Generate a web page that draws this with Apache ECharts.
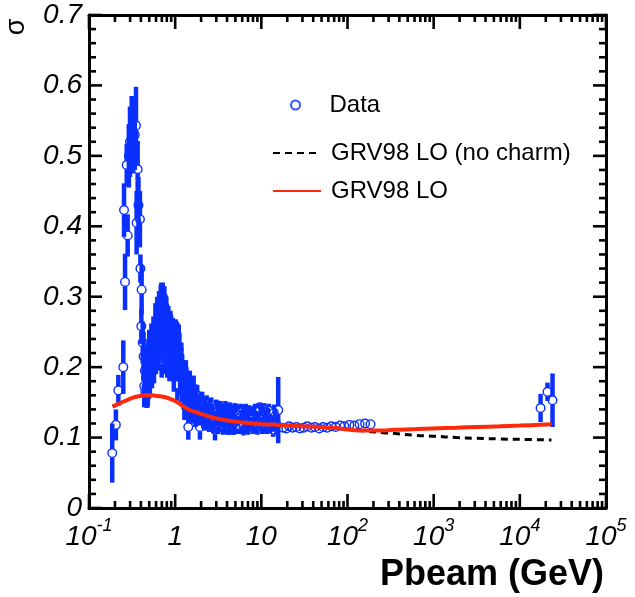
<!DOCTYPE html>
<html><head><meta charset="utf-8">
<script src="https://cdn.jsdelivr.net/npm/echarts@6/dist/echarts.min.js"></script>
<style>html,body{margin:0;padding:0;background:#fff}#c{width:635px;height:597px}</style>
</head><body><div id="c"></div>
<script>
// ---- Data ----
const pbeam = [
  0.186,0.205,0.219,0.250,0.255,0.262,0.274,0.281,0.290,0.299,0.313,0.326,0.340,0.351,0.357,0.367,0.375,0.390,0.395,0.405,0.408,0.420,0.430,0.438,0.445,0.450,
  0.458,0.466,0.475,0.490,0.500,0.515,0.530,0.545,0.560,0.575,0.590,0.605,0.620,0.635,0.650,0.665,0.680,0.697,0.710,0.725,0.740,0.760,0.780,0.800,0.820,0.845,0.870,0.895,0.920,0.950,0.980,1.010,1.040,1.060,1.080,1.120,1.160,1.200,
  1.25,1.30,1.35,1.42,1.45,1.52,1.60,1.68,1.76,1.85,1.94,2.00,2.12,2.25,2.40,2.55,2.70,2.90,3.05,3.25,3.45,3.70,3.95,4.20,4.50,4.80,5.10,5.65,6.00,6.40,6.80,7.25,7.70,8.20,8.70,9.30,9.90,10.5,11.2,11.9,12.6,13.7,14.5,15.7,
  17.9,19.5,21.0,23.0,25.5,28.0,31.0,34.0,38.0,42.0,47.0,52.0,58.0,65.0,73.0,82.0,92.0,105,120,138,160,185,
  17400,20950,23950,
  0.462,0.470,0.482,0.495,0.508,0.522,0.538,0.552,0.568,0.582,0.598,0.612,0.628,0.643,0.658,0.673,0.690,0.703,0.718,0.733,0.750,0.770,0.790,0.810,0.833,0.858,0.882,0.908,0.935,0.965,0.995,1.025,1.100,1.140,1.180,
  1.22,1.28,1.33,1.38,1.48,1.56,1.64,1.72,1.80,1.90,2.06,2.18,2.32,2.48,2.62,2.80,2.98,3.15,3.35,3.58,3.82,4.05,4.35,4.65,4.95,5.35,5.80,6.20,6.60,7.00,7.45,7.95,8.45,9.00,9.60,10.2,10.8,11.5,12.2,13.1,14.0,15.0
];
const sigma = [
  0.078,0.118,0.167,0.200,0.423,0.321,0.487,0.387,0.500,0.520,0.540,0.525,0.530,0.543,0.405,0.481,0.430,0.410,0.340,0.258,0.310,0.235,0.215,0.173,0.195,0.165,
  0.185,0.172,0.160,0.195,0.223,0.205,0.232,0.215,0.242,0.228,0.256,0.242,0.266,0.252,0.276,0.262,0.282,0.210,0.286,0.270,0.256,0.266,0.246,0.256,0.240,0.250,0.236,0.244,0.226,0.234,0.222,0.232,0.225,0.175,0.228,0.215,0.195,0.185,
  0.170,0.160,0.175,0.115,0.160,0.150,0.160,0.145,0.150,0.140,0.115,0.145,0.135,0.140,0.130,0.138,0.128,0.111,0.135,0.128,0.133,0.125,0.132,0.124,0.130,0.122,0.132,0.135,0.122,0.130,0.124,0.134,0.125,0.131,0.122,0.137,0.126,0.130,0.123,0.128,0.118,0.111,0.125,0.139,
  0.114,0.113,0.116,0.114,0.115,0.113,0.114,0.116,0.114,0.115,0.113,0.115,0.114,0.116,0.115,0.117,0.116,0.118,0.117,0.119,0.120,0.119,
  0.142,0.165,0.153,
  0.200,0.185,0.175,0.210,0.195,0.220,0.205,0.228,0.212,0.240,0.225,0.250,0.235,0.262,0.245,0.268,0.290,0.255,0.300,0.245,0.285,0.230,0.270,0.225,0.262,0.220,0.255,0.215,0.245,0.200,0.236,0.220,0.225,0.190,0.205,
  0.185,0.150,0.190,0.150,0.175,0.140,0.170,0.135,0.160,0.135,0.150,0.128,0.148,0.124,0.145,0.122,0.142,0.120,0.140,0.118,0.140,0.118,0.138,0.117,0.138,0.118,0.138,0.116,0.138,0.116,0.127,0.117,0.138,0.116,0.140,0.117,0.139,0.117,0.138,0.120,0.135,0.118
];
const sigmaErr = [
  0.042,0.022,0.022,0.038,0.038,0.040,0.030,0.030,0.045,0.050,0.045,0.050,0.050,0.055,0.045,0.040,0.040,0.040,0.020,0.025,0.035,0.030,0.035,0.030,0.035,0.020,
  0.030,0.030,0.018,0.030,0.030,0.030,0.030,0.035,0.030,0.032,0.035,0.036,0.034,0.040,0.032,0.040,0.034,0.025,0.032,0.040,0.040,0.036,0.040,0.034,0.040,0.030,0.040,0.030,0.040,0.030,0.040,0.036,0.040,0.025,0.034,0.034,0.030,0.034,
  0.030,0.030,0.025,0.018,0.030,0.025,0.025,0.025,0.020,0.022,0.018,0.020,0.022,0.018,0.020,0.018,0.020,0.015,0.018,0.020,0.016,0.020,0.018,0.020,0.017,0.018,0.016,0.012,0.017,0.016,0.018,0.012,0.016,0.014,0.016,0.012,0.016,0.014,0.016,0.014,0.012,0.010,0.016,0.047,
  0.003,0.003,0.003,0.003,0.003,0.003,0.003,0.003,0.003,0.003,0.003,0.003,0.003,0.003,0.003,0.003,0.003,0.003,0.003,0.003,0.003,0.003,
  0.020,0.013,0.038,
  0.025,0.025,0.030,0.025,0.035,0.030,0.035,0.030,0.035,0.030,0.035,0.035,0.040,0.035,0.040,0.035,0.030,0.040,0.020,0.040,0.030,0.040,0.030,0.040,0.025,0.040,0.025,0.035,0.025,0.035,0.030,0.040,0.035,0.030,0.030,
  0.025,0.025,0.020,0.025,0.020,0.020,0.018,0.020,0.015,0.018,0.015,0.018,0.012,0.016,0.012,0.016,0.012,0.015,0.012,0.014,0.012,0.014,0.012,0.013,0.011,0.013,0.010,0.013,0.010,0.012,0.014,0.012,0.010,0.012,0.010,0.012,0.010,0.012,0.010,0.012,0.012,0.014
];
const theoryP = [0.188,0.23,0.274,0.33,0.39,0.45,0.533,0.63,0.728,0.87,1.04,1.22,1.48,1.85,2.32,3.33,4.7,6.72,10,16.4,27.9,43.8,81.7,139,259,339,633,986,1845,3150,5860,10000,23300];
const grv98LO = [0.144,0.149,0.153,0.157,0.159,0.160,0.160,0.159,0.158,0.155,0.151,0.145,0.139,0.135,0.131,0.126,0.123,0.121,0.119,0.118,0.116,0.1155,0.113,0.110,0.110,0.111,0.112,0.113,0.114,0.115,0.116,0.117,0.119];
const grv98NoCharm = [0.144,0.149,0.153,0.157,0.159,0.160,0.160,0.159,0.158,0.155,0.151,0.145,0.139,0.135,0.131,0.126,0.123,0.121,0.119,0.118,0.116,0.1155,0.113,0.110,0.107,0.106,0.103,0.102,0.100,0.099,0.098,0.0975,0.0966];

const xMajorTicks = [0.1,1,10,100,1000,10000,100000];
const xTickBase = ['10','1','10','10','10','10','10'];
const xTickExp  = ['-1','','','2','3','4','5'];
const yMajorTicks = [0,0.1,0.2,0.3,0.4,0.5,0.6,0.7];
const yTickLabels = ['0','0.1','0.2','0.3','0.4','0.5','0.6','0.7'];
const xMinorTicks = [];
for (let d = -1; d < 5; d++) for (let m = 2; m <= 9; m++) xMinorTicks.push(+(m * Math.pow(10, d)).toPrecision(3));
const yMinorTicks = [];
for (let k = 1; k < 35; k++) if (k % 5 !== 0) yMinorTicks.push(+(k * 0.02).toFixed(2));

const seriesNames = ['Data','GRV98 LO (no charm)','GRV98 LO'];
const xTitle = 'Pbeam (GeV)';
const yTitle = 'σ';

// ---- Chart ----
const FONT = '"Liberation Sans", Arial, Helvetica, sans-serif';
const BLUE_BAR = '#0a30ff';
const BLUE_MARK = '#0a30ff';
const RED = '#ff2a0a';
const X_MIN = 0.1, X_MAX = 100000, Y_MIN = 0, Y_MAX = 0.7;
const MARK_R = 4.3;

const chart = echarts.init(document.getElementById('c'), null, {renderer: 'canvas'});

const dataPts = pbeam.map((p, i) => [p, sigma[i], sigmaErr[i]]);

// tick items: [x, y, isY, isMajor]
const tickItems = []
  .concat(xMajorTicks.map(v => [v, Y_MIN, 0, 1]))
  .concat(xMinorTicks.map(v => [v, Y_MIN, 0, 0]))
  .concat(yMajorTicks.map(v => [X_MIN, v, 1, 1]))
  .concat(yMinorTicks.map(v => [X_MIN, v, 1, 0]));

// error bars, with a gap where the marker sits (as ROOT draws them)
function renderErrorBar(params, api) {
  const p = api.value(0), s = api.value(1), e = api.value(2);
  const c = api.coord([p, s]);
  const top = api.coord([p, s + e]);
  const bot = api.coord([p, Math.max(s - e, 0)]);
  const ch = [];
  const st = {stroke: BLUE_BAR, lineWidth: 4.5};
  if (top[1] < c[1] - MARK_R) ch.push({type: 'line', shape: {x1: c[0], y1: top[1], x2: c[0], y2: c[1] - MARK_R}, style: st});
  if (bot[1] > c[1] + MARK_R) ch.push({type: 'line', shape: {x1: c[0], y1: c[1] + MARK_R, x2: c[0], y2: bot[1]}, style: st});
  return {type: 'group', children: ch};
}
// hollow markers
function renderMarker(params, api) {
  const c = api.coord([api.value(0), api.value(1)]);
  return {type: 'circle', shape: {cx: c[0], cy: c[1], r: MARK_R}, style: {fill: null, stroke: BLUE_MARK, lineWidth: 1.4}};
}

function renderTick(params, api) {
  const isY = api.value(2), major = api.value(3);
  const st = {stroke: '#000', lineWidth: 2.6};
  if (!isY) {
    const v = api.value(0);
    const len = major ? 14 : 7;
    const b = api.coord([v, Y_MIN]), t = api.coord([v, Y_MAX]);
    return {type: 'group', children: [
      {type: 'line', shape: {x1: b[0], y1: b[1], x2: b[0], y2: b[1] - len}, style: st},
      {type: 'line', shape: {x1: t[0], y1: t[1], x2: t[0], y2: t[1] + len}, style: st}
    ]};
  }
  const v = api.value(1);
  const len = major ? 13 : 7;
  const l = api.coord([X_MIN, v]), r = api.coord([X_MAX, v]);
  return {type: 'group', children: [
    {type: 'line', shape: {x1: l[0], y1: l[1], x2: l[0] + len, y2: l[1]}, style: st},
    {type: 'line', shape: {x1: r[0], y1: r[1], x2: r[0] - len, y2: r[1]}, style: st}
  ]};
}

function xLabel(v) {
  let idx = -1;
  xMajorTicks.forEach((t, i) => { if (Math.abs(Math.log10(t) - Math.log10(v)) < 1e-6) idx = i; });
  if (idx < 0) return '';
  return xTickExp[idx] ? '{b|' + xTickBase[idx] + '}{s|' + xTickExp[idx] + '}' : '{b|' + xTickBase[idx] + '}';
}
function yLabel(v) {
  let idx = -1;
  yMajorTicks.forEach((t, i) => { if (Math.abs(t - v) < 1e-9) idx = i; });
  return idx < 0 ? '' : yTickLabels[idx];
}

const axisLineStyle = {show: true, onZero: false, lineStyle: {color: '#000', width: 3}};
const xCommon = {type: 'log', logBase: 10, min: X_MIN, max: X_MAX, splitLine: {show: false}, axisTick: {show: false}, minorTick: {show: false}, axisLine: axisLineStyle};
const yCommon = {type: 'value', min: Y_MIN, max: Y_MAX, interval: 0.1, splitLine: {show: false}, axisTick: {show: false}, minorTick: {show: false}, axisLine: axisLineStyle};

const legendText = {fontSize: 24, fontFamily: FONT, color: '#000', lineHeight: 26, padding: [0, 0, 0, 5]};

chart.setOption({
  animation: false,
  backgroundColor: '#fff',
  grid: {left: 89, right: 29, top: 15, bottom: 89},
  legend: [
    {data: [{name: seriesNames[0], icon: 'emptyCircle', itemStyle: {color: '#3552ff', borderColor: '#3552ff', borderWidth: 1.5}}],
     left: 285, top: 87, itemWidth: 48, itemHeight: 9, textStyle: legendText, selectedMode: false},
    {data: [{name: seriesNames[1], itemStyle: {opacity: 0}}], left: 267, top: 135, itemWidth: 48, itemHeight: 9, textStyle: legendText, selectedMode: false},
    {data: [{name: seriesNames[2], itemStyle: {opacity: 0}}], left: 267, top: 173, itemWidth: 48, itemHeight: 9, textStyle: legendText, selectedMode: false}
  ],
  xAxis: [
    Object.assign({}, xCommon, {
      position: 'bottom',
      axisLabel: {show: true, customValues: xMajorTicks, margin: 9, formatter: xLabel,
        rich: {
          b: {fontSize: 28, fontStyle: 'italic', fontFamily: FONT, color: '#000', lineHeight: 40},
          s: {fontSize: 18, fontStyle: 'italic', fontFamily: FONT, color: '#000', lineHeight: 20, verticalAlign: 'top'}
        }}
    }),
    Object.assign({}, xCommon, {position: 'top', axisLabel: {show: false}})
  ],
  yAxis: [
    Object.assign({}, yCommon, {
      position: 'left',
      axisLabel: {show: true, margin: 7, fontSize: 28, fontStyle: 'italic', fontFamily: FONT, color: '#000', formatter: yLabel}
    }),
    Object.assign({}, yCommon, {position: 'right', axisLabel: {show: false}})
  ],
  graphic: [
    {type: 'text', right: 31, top: 557, style: {text: xTitle, font: 'bold 36px ' + FONT, fill: '#000'}},
    {type: 'text', x: 17, y: 27, rotation: Math.PI / 2, style: {text: yTitle, font: '27px ' + FONT, fill: '#000', align: 'center', verticalAlign: 'middle'}}
  ],
  series: [
    {name: 'ticks', type: 'custom', xAxisIndex: 0, yAxisIndex: 0, renderItem: renderTick, data: tickItems, z: 6,
     silent: true, clip: false, encode: {x: 0, y: 1}},
    {name: seriesNames[0], type: 'custom', xAxisIndex: 0, yAxisIndex: 0, renderItem: renderMarker, data: dataPts, z: 2,
     itemStyle: {color: '#3552ff'}, encode: {x: 0, y: 1}, clip: true},
    {name: 'Data error bars', type: 'custom', xAxisIndex: 0, yAxisIndex: 0, renderItem: renderErrorBar, data: dataPts, z: 2.5,
     itemStyle: {color: BLUE_BAR}, encode: {x: 0, y: 1}, clip: true, silent: true},
    {name: seriesNames[1], type: 'line', xAxisIndex: 0, yAxisIndex: 0, showSymbol: false, symbol: 'none', smooth: 0.4, z: 3,
     data: theoryP.map((p, i) => [p, grv98NoCharm[i]]),
     lineStyle: {color: '#000', width: 3, type: [7, 5]}, itemStyle: {color: '#000'}},
    {name: seriesNames[2], type: 'line', xAxisIndex: 0, yAxisIndex: 0, showSymbol: false, symbol: 'none', smooth: 0.4, z: 4,
     data: theoryP.map((p, i) => [p, grv98LO[i]]),
     lineStyle: {color: RED, width: 4}, itemStyle: {color: RED}}
  ]
});
</script>
</body></html>
